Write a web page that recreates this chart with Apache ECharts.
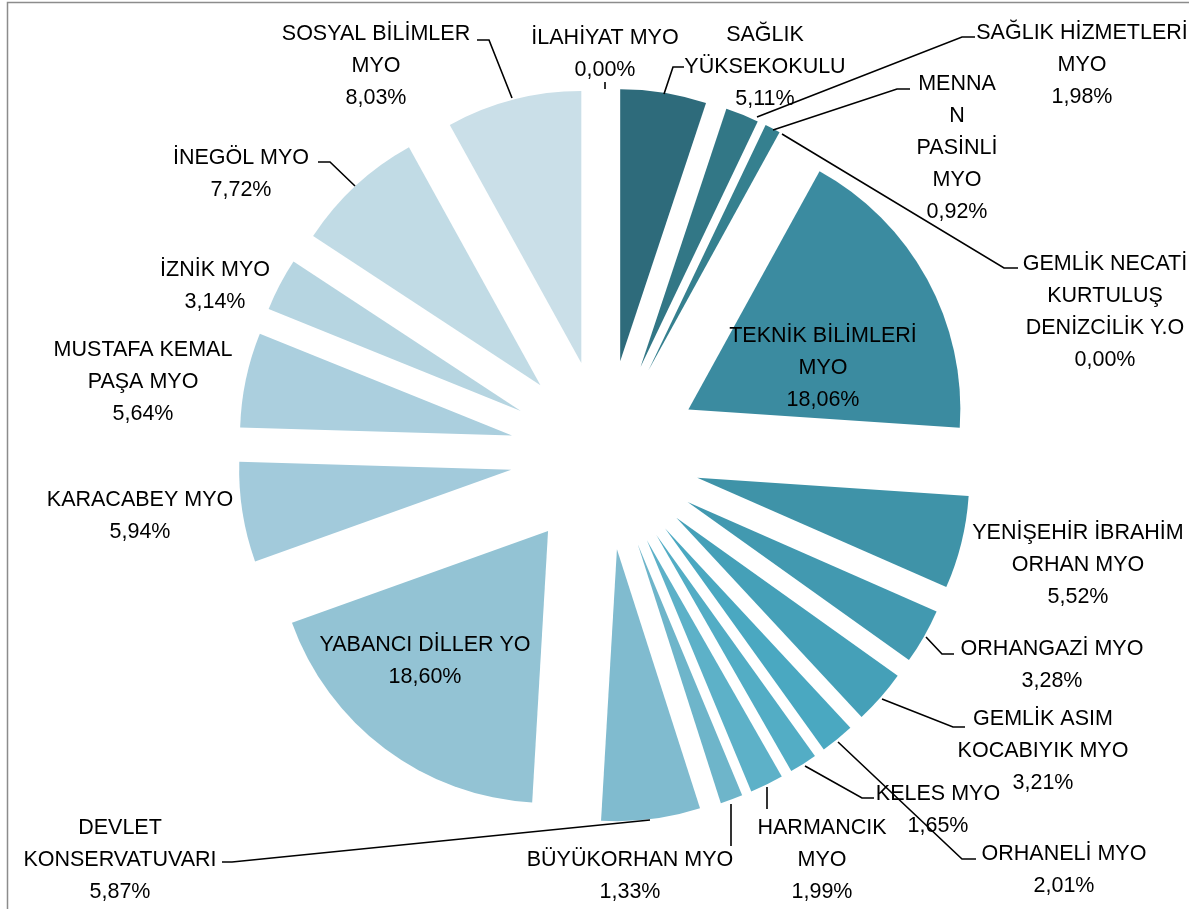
<!DOCTYPE html>
<html style="height: 100%">
   <head>
       <meta charset="utf-8">
   </head>
   <body style="height: 100%; margin: 0; background: #fff">
       <div id="container" style="width: 1189px; height: 909px"></div>
       <script type="text/javascript" src="https://cdn.jsdelivr.net/npm/echarts@6/dist/echarts.min.js"></script>
       <script type="text/javascript">
// birimler (saat yönünde, tepeden başlayarak) ve yüzdeleri
var units = [
    'İLAHİYAT MYO',
    'SAĞLIK\nYÜKSEKOKULU',
    'SAĞLIK HİZMETLERİ\nMYO',
    'MENNA\nN\nPASİNLİ\nMYO',
    'GEMLİK NECATİ\nKURTULUŞ\nDENİZCİLİK Y.O',
    'TEKNİK BİLİMLERİ\nMYO',
    'YENİŞEHİR İBRAHİM\nORHAN MYO',
    'ORHANGAZİ MYO',
    'GEMLİK ASIM\nKOCABIYIK MYO',
    'ORHANELİ MYO',
    'KELES MYO',
    'HARMANCIK\nMYO',
    'BÜYÜKORHAN MYO',
    'DEVLET\nKONSERVATUVARI',
    'YABANCI DİLLER YO',
    'KARACABEY MYO',
    'MUSTAFA KEMAL\nPAŞA MYO',
    'İZNİK MYO',
    'İNEGÖL MYO',
    'SOSYAL BİLİMLER\nMYO'
];
var shares = [0.00, 5.11, 1.98, 0.92, 0.00, 18.06, 5.52, 3.28, 3.21, 2.01,
              1.65, 1.99, 1.33, 5.87, 18.60, 5.94, 5.64, 3.14, 7.72, 8.03];

// renk paleti (koyu -> açık)
var palette = ['#2b6676', '#2e6b7b', '#327786', '#35808f', '#388699', '#3b8ba0',
               '#3f93a8', '#4299b0', '#45a0b8', '#4aa8c1', '#53adc5', '#5db1c8',
               '#6eb5ca', '#80bbcf', '#93c3d4', '#a2cadb', '#abcfde', '#b6d5e1',
               '#c1dbe5', '#cadfe8'];

// etiket yerleşimi (merkez noktası) ve kılavuz çizgileri
var labelAt = [
    [605, 54], [765, 67], [1082, 65], [957, 148], [1105, 312],
    [823, 368], [1078, 565], [1052, 665], [1043, 751], [1064, 870],
    [938, 810], [822, 860], [630, 876], [120, 860], [425, 661],
    [140, 516], [143, 382], [215, 286], [241, 174], [376, 66]
];
var leaders = [
    [[605, 82], [605, 89]],
    [[664, 94], [673, 67], [684, 67]],
    [[757, 117], [962, 37], [975, 37]],
    [[773, 130], [897, 89], [910, 89]],
    [[782, 134], [1004, 268], [1018, 268]],
    null,
    null,
    [[926, 637], [942, 654], [954, 654]],
    [[882, 699], [953, 727], [965, 727]],
    [[838, 742], [962, 859], [976, 859]],
    [[805, 766], [862, 798], [874, 798]],
    [[767, 787], [767, 809]],
    [[731, 804], [731, 846]],
    [[650, 820], [232, 862], [222, 862]],
    null,
    null,
    null,
    null,
    [[355, 186], [330, 162], [318, 162]],
    [[512, 98], [489, 40], [477, 40]]
];

var dom = document.getElementById("container");
var myChart = echarts.init(dom);

var pieCenter = [605, 455];
var pieRadius = 272;

// dilimler (patlatılmış)
var sliceData = units.map(function (name, i) {
    return {
        name: name,
        value: shares[i],
        selected: true,
        itemStyle: { color: palette[i] }
    };
});

// etiketler için görünmez ikinci pasta
var labelData = units.map(function (name, i) {
    return {
        name: name,
        value: shares[i],
        itemStyle: { color: 'rgba(0,0,0,0)' },
        labelLine: { show: leaders[i] !== null }
    };
});

var option = {
    backgroundColor: '#ffffff',
    animation: false,
    graphic: [{
        type: 'rect',
        silent: true,
        shape: { x: 7.5, y: 2.5, width: 1400, height: 1100 },
        style: { fill: 'none', stroke: '#8c8c8c', lineWidth: 1.5 }
    }],
    series: [{
        type: 'pie',
        center: pieCenter,
        radius: pieRadius,
        startAngle: 90,
        clockwise: true,
        selectedMode: 'multiple',
        selectedOffset: 95,
        silent: true,
        emphasis: { disabled: true },
        itemStyle: { borderWidth: 0 },
        label: { show: false },
        labelLine: { show: false },
        data: sliceData
    }, {
        type: 'pie',
        center: pieCenter,
        radius: pieRadius,
        startAngle: 90,
        clockwise: true,
        silent: true,
        z: 3,
        avoidLabelOverlap: false,
        emphasis: { disabled: true },
        itemStyle: { borderWidth: 0 },
        label: {
            show: true,
            position: 'outside',
            fontFamily: 'Liberation Sans',
            fontSize: 21.5,
            lineHeight: 32,
            color: '#000',
            align: 'center',
            formatter: function (p) {
                return p.name + '\n' + p.value.toFixed(2).replace('.', ',') + '%';
            }
        },
        labelLine: {
            show: true,
            lineStyle: { color: '#000', width: 1.6 }
        },
        labelLayout: function (params) {
            var i = params.dataIndex;
            var res = {
                x: labelAt[i][0],
                y: labelAt[i][1],
                align: 'center',
                verticalAlign: 'middle'
            };
            if (leaders[i]) {
                res.labelLinePoints = leaders[i];
            }
            return res;
        },
        data: labelData
    }]
};
myChart.setOption(option, true);
       </script>
   </body>
</html>
